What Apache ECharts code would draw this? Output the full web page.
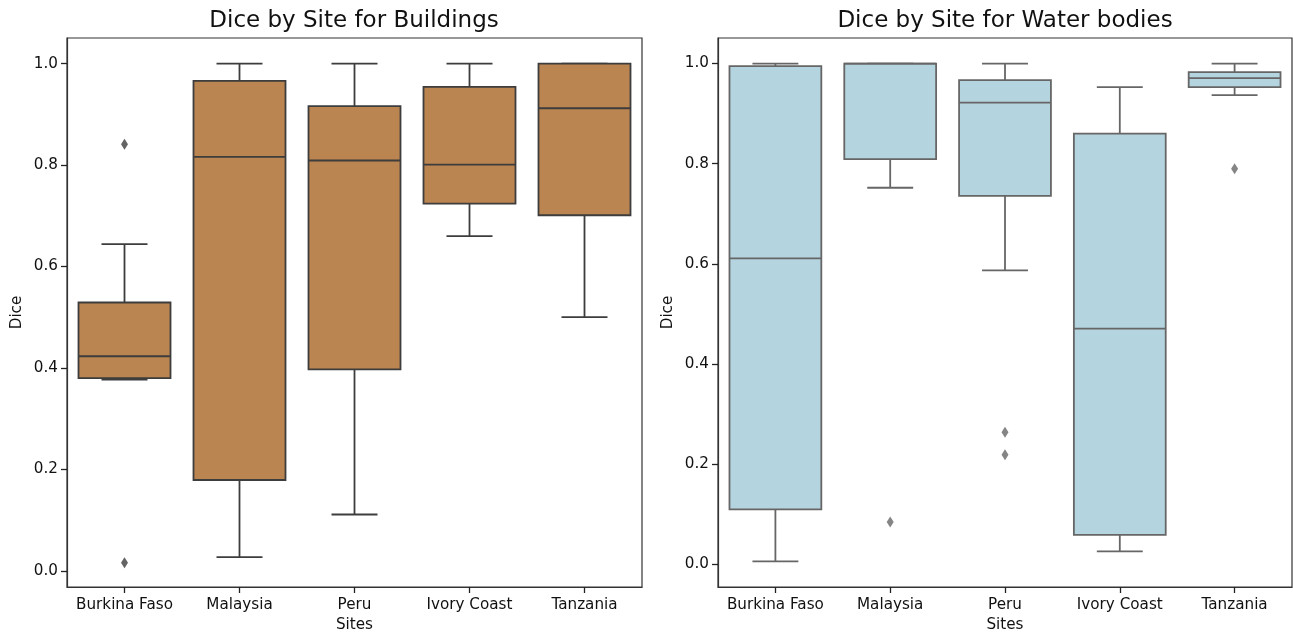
<!DOCTYPE html>
<html>
<head>
<meta charset="utf-8">
<title>Dice by Site</title>
<script src="https://cdn.jsdelivr.net/npm/echarts@6/dist/echarts.min.js"></script>
<style>
  html, body { margin: 0; padding: 0; background: #fff; }
  #chart { width: 1293px; height: 633px; }
</style>
</head>
<body>
<div id="chart"></div>
<script>
// Site names shared by both panels
const sites = ['Burkina Faso', 'Malaysia', 'Peru', 'Ivory Coast', 'Tanzania'];

// Box statistics per site: [lower whisker, Q1, median, Q3, upper whisker]
const buildingsStats = [
  [0.377, 0.380, 0.423, 0.529, 0.644],
  [0.027, 0.179, 0.816, 0.966, 1.000],
  [0.111, 0.397, 0.809, 0.916, 1.000],
  [0.660, 0.724, 0.801, 0.954, 1.000],
  [0.500, 0.701, 0.912, 1.000, 1.000]
];
const waterStats = [
  [0.006, 0.110, 0.611, 0.995, 1.000],
  [0.752, 0.809, 1.000, 1.000, 1.000],
  [0.587, 0.736, 0.922, 0.967, 1.000],
  [0.026, 0.059, 0.471, 0.860, 0.953],
  [0.937, 0.953, 0.971, 0.983, 1.000]
];

// Outliers: [site index, dice]
const buildingsOutliers = [[0, 0.841], [0, 0.016]];
const waterOutliers = [[1, 0.085], [2, 0.264], [2, 0.219], [4, 0.790]];

// Y-axis tick values
const diceTicks = [0.0, 0.2, 0.4, 0.6, 0.8, 1.0];

const FONT = 'DejaVu Sans';
const TICK_FONT = 15.2;

function boxData(stats) {
  return stats.map((s, i) => [i].concat(s));
}

// Draws one box: filled IQR rect, median line, whiskers and half-width caps
function makeBoxRenderer(fill, stroke) {
  return function (params, api) {
    const idx = api.value(0);
    const lo = api.value(1), q1 = api.value(2), med = api.value(3),
          q3 = api.value(4), hi = api.value(5);
    const bandW = api.size([1, 0])[0];
    const bw = bandW * 0.8;
    const cx = api.coord([idx, 0])[0];
    const yLo = api.coord([idx, lo])[1];
    const yQ1 = api.coord([idx, q1])[1];
    const yMed = api.coord([idx, med])[1];
    const yQ3 = api.coord([idx, q3])[1];
    const yHi = api.coord([idx, hi])[1];
    const lw = 1.8;
    const lineStyle = { stroke: stroke, lineWidth: lw, fill: null };
    const capHalf = bw / 4;
    return {
      type: 'group',
      children: [
        { type: 'line', shape: { x1: cx, y1: yQ3, x2: cx, y2: yHi }, style: lineStyle },
        { type: 'line', shape: { x1: cx, y1: yQ1, x2: cx, y2: yLo }, style: lineStyle },
        { type: 'line', shape: { x1: cx - capHalf, y1: yHi, x2: cx + capHalf, y2: yHi }, style: lineStyle },
        { type: 'line', shape: { x1: cx - capHalf, y1: yLo, x2: cx + capHalf, y2: yLo }, style: lineStyle },
        { type: 'rect', shape: { x: cx - bw / 2, y: yQ3, width: bw, height: yQ1 - yQ3 },
          style: { fill: fill, stroke: stroke, lineWidth: lw } },
        { type: 'line', shape: { x1: cx - bw / 2, y1: yMed, x2: cx + bw / 2, y2: yMed }, style: lineStyle }
      ]
    };
  };
}

function xAxisFor(gridIndex) {
  return {
    type: 'category', gridIndex: gridIndex, data: sites,
    boundaryGap: true, position: 'bottom',
    name: 'Sites', nameLocation: 'middle', nameGap: 31,
    nameTextStyle: { fontFamily: FONT, fontSize: TICK_FONT, color: '#111' },
    axisLine: { show: true, onZero: false, lineStyle: { color: '#333', width: 1.2 } },
    axisTick: { show: true, inside: false, alignWithLabel: true, interval: 0, length: 6,
      lineStyle: { color: '#222', width: 1.3 } },
    axisLabel: { fontFamily: FONT, fontSize: TICK_FONT, color: '#111', margin: 11, interval: 0 },
    splitLine: { show: false }
  };
}

function yAxisFor(gridIndex, min, max) {
  return {
    type: 'value', gridIndex: gridIndex, min: min, max: max, position: 'left',
    name: 'Dice', nameLocation: 'middle', nameGap: 42,
    nameTextStyle: { fontFamily: FONT, fontSize: TICK_FONT, color: '#111' },
    axisLine: { show: true, onZero: false, lineStyle: { color: '#333', width: 1.2 } },
    axisTick: { show: true, inside: false, length: 6, customValues: diceTicks,
      lineStyle: { color: '#222', width: 1.3 } },
    axisLabel: { fontFamily: FONT, fontSize: TICK_FONT, color: '#111', margin: 9,
      customValues: diceTicks, formatter: v => v.toFixed(1) },
    splitLine: { show: false }
  };
}

const chart = echarts.init(document.getElementById('chart'), null, { renderer: 'canvas' });

chart.setOption({
  animation: false,
  backgroundColor: '#fff',
  title: [
    { text: 'Dice by Site for Buildings', left: 354, top: 10, textAlign: 'center', padding: 0,
      textStyle: { fontFamily: FONT, fontSize: 23, fontWeight: 'normal', color: '#111' } },
    { text: 'Dice by Site for Water bodies', left: 1005, top: 10, textAlign: 'center', padding: 0,
      textStyle: { fontFamily: FONT, fontSize: 23, fontWeight: 'normal', color: '#111' } }
  ],
  grid: [
    { left: 67, top: 38, width: 575, height: 549, containLabel: false, outerBoundsMode: 'none',
      show: true, borderColor: '#333', borderWidth: 1.2, backgroundColor: 'transparent' },
    { left: 718, top: 38, width: 574, height: 549, containLabel: false, outerBoundsMode: 'none',
      show: true, borderColor: '#333', borderWidth: 1.2, backgroundColor: 'transparent' }
  ],
  xAxis: [xAxisFor(0), xAxisFor(1)],
  yAxis: [yAxisFor(0, -0.032, 1.0505), yAxisFor(1, -0.045, 1.051)],
  series: [
    {
      type: 'custom', xAxisIndex: 0, yAxisIndex: 0,
      data: boxData(buildingsStats),
      encode: { x: 0, y: [1, 2, 3, 4, 5] },
      renderItem: makeBoxRenderer('#bb8551', '#3d3d3d')
    },
    {
      type: 'scatter', xAxisIndex: 0, yAxisIndex: 0,
      data: buildingsOutliers,
      symbol: 'diamond', symbolSize: [7, 11],
      itemStyle: { color: '#3d3d3d' }
    },
    {
      type: 'custom', xAxisIndex: 1, yAxisIndex: 1,
      data: boxData(waterStats),
      encode: { x: 0, y: [1, 2, 3, 4, 5] },
      renderItem: makeBoxRenderer('#b4d4df', '#666666')
    },
    {
      type: 'scatter', xAxisIndex: 1, yAxisIndex: 1,
      data: waterOutliers,
      symbol: 'diamond', symbolSize: [7, 11],
      itemStyle: { color: '#666666' }
    }
  ]
});
</script>
</body>
</html>
